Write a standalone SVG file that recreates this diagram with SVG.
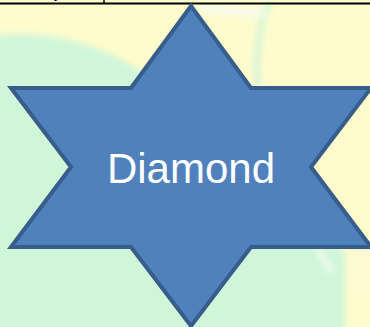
<svg xmlns="http://www.w3.org/2000/svg" width="370" height="327" viewBox="0 0 370 327">
  <style>
    .star { fill: #4f81bd; stroke: #385d8a; stroke-width: 4; stroke-linejoin: miter; }
    .label { fill: #ffffff; font-family: "Liberation Sans", Arial, sans-serif; font-size: 42px; text-anchor: middle; }
  </style>
  <defs>
    <filter id="blur" x="-20%" y="-20%" width="140%" height="140%">
      <feGaussianBlur stdDeviation="3"/>
    </filter>
  </defs>
  <g id="background">
    <rect x="0" y="0" width="370" height="327" fill="#fefccc"/>
    <g filter="url(#blur)">
      <path d="M-10,36 C50,28 110,45 160,85 L300,195 L330,245 L345,250 L345,340 L-10,340 Z" fill="#d0f6d9"/>
      <path d="M270,0 C258,25 255,55 258,90" fill="none" stroke="#d8f5d6" stroke-width="7"/>
      <path d="M200,8 L265,14" fill="none" stroke="#f6fbf2" stroke-width="7"/>
      <path d="M318,250 L332,272" fill="none" stroke="#f2faf0" stroke-width="6"/>
      <path d="M350,240 L370,245 L370,300 L352,290 Z" fill="#fcfad0"/>
    </g>
  </g>
  <g id="header">
    <line x1="0" y1="3.5" x2="370" y2="3.5" stroke="#000000" stroke-width="2"/>
    <line x1="104" y1="0" x2="104" y2="3.5" stroke="#000000" stroke-width="1.5"/>
    <text x="54" y="-2" font-family="'Liberation Sans', Arial, sans-serif" font-size="14" fill="#000000">y</text>
  </g>
  <g id="diamond">
    <polygon class="star" points="191,6 251,88 371,88 311,167 371,247 251,247 191,326 131,247 11,247 71,167 11,88 131,88"/>
    <text class="label" x="191" y="183">Diamond</text>
  </g>
</svg>
